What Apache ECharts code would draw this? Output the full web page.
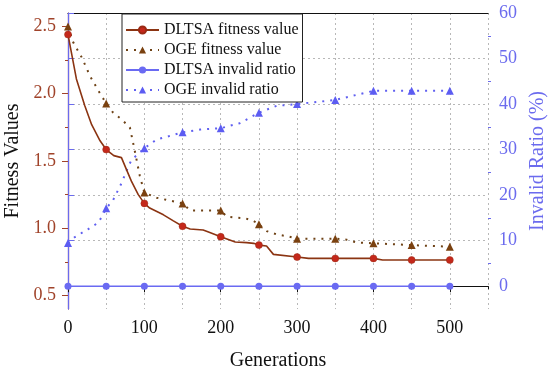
<!DOCTYPE html>
<html>
<head>
<meta charset="utf-8">
<script src="https://cdn.jsdelivr.net/npm/echarts@6/dist/echarts.min.js"></script>
<style>html,body{margin:0;padding:0;background:#fff;}#c{width:550px;height:375px;}</style>
</head>
<body>
<div id="c"></div>
<script>
// ---- data ----
const seriesNames = ['DLTSA fitness value', 'OGE fitness value', 'DLTSA invalid ratio', 'OGE invalid ratio'];
const xTickLabels = [0, 100, 200, 300, 400, 500];
const fitTickLabels = [0.5, 1.0, 1.5, 2.0, 2.5];
const ratioTickLabels = [0, 10, 20, 30, 40, 50, 60];

const dltsaFitX = [0, 11, 22, 31, 42, 50, 60, 70, 77, 83, 92, 100, 107, 125, 138, 150, 160, 177, 184, 200, 219, 234, 243, 250, 260, 269, 300, 315, 350, 400, 412, 450, 500];
const dltsaFitY = [2.44, 2.11, 1.91, 1.77, 1.65, 1.585, 1.54, 1.525, 1.43, 1.35, 1.25, 1.185, 1.15, 1.10, 1.055, 1.015, 0.995, 0.987, 0.972, 0.937, 0.898, 0.893, 0.888, 0.875, 0.868, 0.806, 0.786, 0.776, 0.776, 0.776, 0.764, 0.764, 0.764];

const ogeFitX = [0, 7, 18, 29, 40, 50, 59, 70, 81, 88, 94, 100, 116, 150, 160, 200, 208, 221, 232, 243, 250, 260, 273, 290, 300, 350, 365, 378, 400, 450, 500];
const ogeFitY = [2.50, 2.38, 2.27, 2.13, 2.02, 1.928, 1.86, 1.81, 1.75, 1.56, 1.39, 1.265, 1.227, 1.185, 1.133, 1.133, 1.086, 1.079, 1.074, 1.054, 1.029, 0.979, 0.955, 0.937, 0.923, 0.923, 0.915, 0.895, 0.888, 0.875, 0.863];

const dltsaRatioX = [0, 50, 100, 150, 200, 250, 300, 350, 400, 450, 500];
const dltsaRatioY = [0, 0, 0, 0, 0, 0, 0, 0, 0, 0, 0];

const ogeRatioX = [0, 9, 26, 40, 50, 59, 70, 77, 83, 100, 116, 150, 173, 200, 225, 250, 273, 300, 350, 400, 450, 500];
const ogeRatioY = [9.5, 10.8, 12.5, 14.0, 17.1, 18.9, 22.6, 25.5, 27.7, 30.3, 32.2, 33.8, 34.4, 34.7, 35.8, 38.1, 39.6, 40.0, 40.9, 42.9, 42.9, 42.9];

// ---- styling ----
const FONT = 'Liberation Serif';
const BROWN_AXIS = '#a0432a';
const BLUE_AXIS = '#6b6bee';
const GRIDC = '#b8b8b8';

function build(xs, ys, sym) {
  return xs.map((x, i) => ({ value: [x, ys[i]], symbol: x % 50 === 0 ? sym : 'none' }));
}

const chart = echarts.init(document.getElementById('c'), null, { renderer: 'canvas' });
const range = (a, b, s) => { const r = []; for (let v = a; v <= b + 1e-9; v += s) r.push(+v.toFixed(4)); return r; };

chart.setOption({
  animation: false,
  backgroundColor: '#fff',
  grid: { left: 68, right: 62, top: 13, bottom: 66, show: false, containLabel: false, outerBoundsMode: 'none' },
  legend: {
    orient: 'vertical', left: 122, top: 14,
    padding: [8, 4, 4, 3],
    itemWidth: 33, itemHeight: 9, itemGap: 4,
    borderColor: '#222', borderWidth: 1, backgroundColor: '#fff',
    textStyle: { fontFamily: FONT, fontSize: 16, color: '#111' },
    data: seriesNames
  },
  xAxis: [
    {
      type: 'value', position: 'bottom', min: 0, max: 550, interval: 50,
      name: 'Generations', nameLocation: 'middle', nameGap: 42,
      nameTextStyle: { fontFamily: FONT, fontSize: 20, color: '#111' },
      axisLine: { show: true, lineStyle: { color: '#111', width: 1.2 } },
      axisTick: { show: true, inside: false, length: 3, lineStyle: { color: '#111' } },
      axisLabel: { show: true, margin: 10, fontFamily: FONT, fontSize: 18, color: '#111',
        formatter: v => (xTickLabels.indexOf(v) >= 0 ? String(v) : '') },
      splitLine: { show: true, lineStyle: { color: GRIDC, type: [2, 3], width: 1 } }
    },
    {
      type: 'value', position: 'bottom', min: 0, max: 550,
      axisLine: { show: false },
      axisTick: { show: true, length: 6, customValues: xTickLabels, lineStyle: { color: '#111' } },
      axisLabel: { show: false },
      splitLine: { show: false }
    },
    {
      type: 'value', position: 'top', min: 0, max: 550,
      axisLine: { show: true, lineStyle: { color: '#111', width: 1.2 } },
      axisTick: { show: false }, axisLabel: { show: false }, splitLine: { show: false }
    }
  ],
  yAxis: [
    {
      type: 'value', position: 'left', min: 0.4, max: 2.6,
      name: 'Fitness Values', nameLocation: 'middle', nameGap: 40,
      nameTextStyle: { fontFamily: FONT, fontSize: 20, color: '#111' },
      axisLine: { show: true, lineStyle: { color: BROWN_AXIS, width: 1.2 } },
      axisTick: { show: true, length: 6, customValues: fitTickLabels, lineStyle: { color: BROWN_AXIS } },
      axisLabel: { show: true, margin: 12, customValues: fitTickLabels, fontFamily: FONT, fontSize: 18, color: BROWN_AXIS,
        formatter: v => v.toFixed(1) },
      splitLine: { show: false }
    },
    {
      type: 'value', position: 'right', min: -5, max: 60,
      name: 'Invalid Ratio (%)', nameLocation: 'middle', nameGap: 34,
      nameTextStyle: { fontFamily: FONT, fontSize: 20, color: BLUE_AXIS },
      axisLine: { show: true, lineStyle: { color: BLUE_AXIS, width: 1.2 } },
      axisTick: { show: true, length: 6, customValues: ratioTickLabels, lineStyle: { color: BLUE_AXIS } },
      axisLabel: { show: true, margin: 11, customValues: ratioTickLabels, fontFamily: FONT, fontSize: 18, color: BLUE_AXIS },
      splitLine: { show: true, lineStyle: { color: GRIDC, type: [2, 3], width: 1 } }
    },
    {
      type: 'value', position: 'left', min: 0.4, max: 2.6,
      axisLine: { show: false },
      axisTick: { show: true, length: 3, customValues: range(0.75, 2.25, 0.5), lineStyle: { color: BROWN_AXIS } },
      axisLabel: { show: false }, splitLine: { show: false }
    },
    {
      type: 'value', position: 'right', min: -5, max: 60,
      axisLine: { show: false },
      axisTick: { show: true, length: 3, customValues: range(5, 55, 10), lineStyle: { color: BLUE_AXIS } },
      axisLabel: { show: false }, splitLine: { show: false }
    }
  ],
  series: [
    {
      name: seriesNames[0], type: 'line', xAxisIndex: 0, yAxisIndex: 0,
      symbol: 'circle', symbolSize: 7, showAllSymbol: true,
      lineStyle: { color: '#8b3412', width: 1.6 },
      itemStyle: { color: '#c4281b', borderColor: '#9a2a14', borderWidth: 0.5 },
      data: build(dltsaFitX, dltsaFitY, 'circle'), z: 4
    },
    {
      name: seriesNames[1], type: 'line', xAxisIndex: 0, yAxisIndex: 0,
      symbol: 'triangle', symbolSize: 8, showAllSymbol: true,
      lineStyle: { color: '#6e4216', width: 2, type: [2, 6] },
      itemStyle: { color: '#7a4110' },
      data: build(ogeFitX, ogeFitY, 'triangle'), z: 3
    },
    {
      name: seriesNames[2], type: 'line', xAxisIndex: 0, yAxisIndex: 1,
      symbol: 'circle', symbolSize: 7, showAllSymbol: true,
      lineStyle: { color: '#6a6af2', width: 1.6 },
      itemStyle: { color: '#6a6af2' },
      data: build(dltsaRatioX, dltsaRatioY, 'circle'), z: 3
    },
    {
      name: seriesNames[3], type: 'line', xAxisIndex: 0, yAxisIndex: 1,
      symbol: 'triangle', symbolSize: 8, showAllSymbol: true,
      lineStyle: { color: '#6060f0', width: 2, type: [2, 6] },
      itemStyle: { color: '#5c5cf2' },
      data: build(ogeRatioX, ogeRatioY, 'triangle'), z: 3
    }
  ]
});
</script>
</body>
</html>
